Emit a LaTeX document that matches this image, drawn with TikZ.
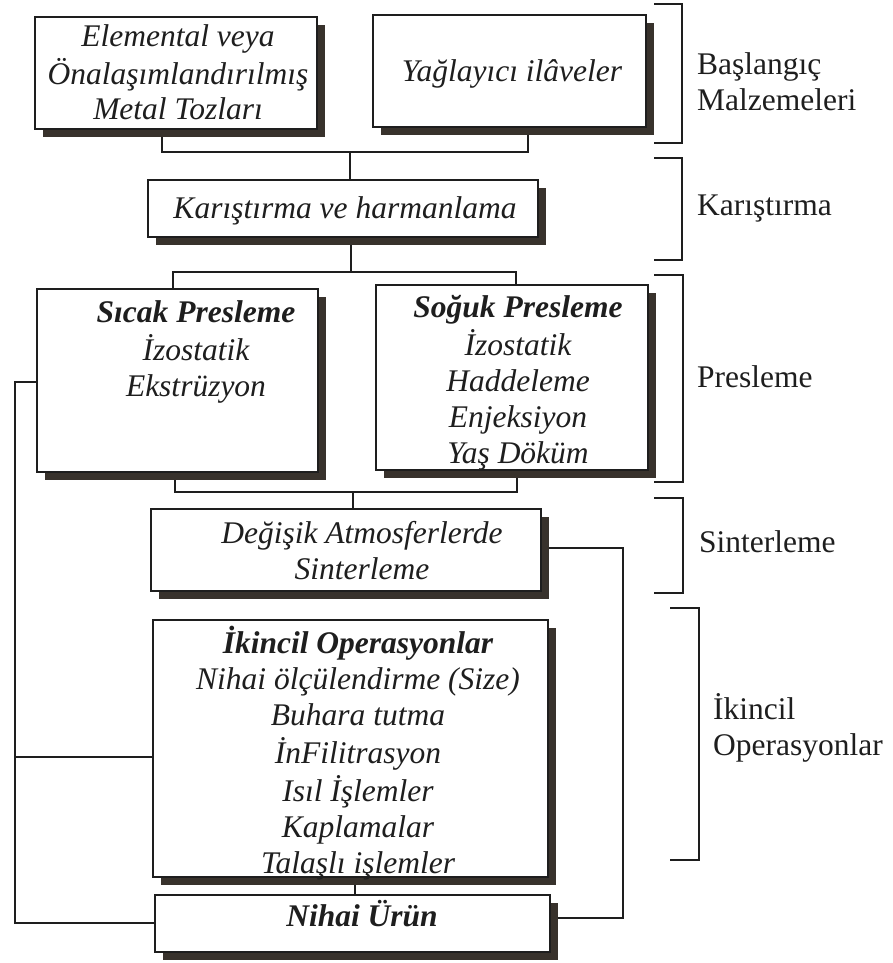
\documentclass[tikz,border=0pt]{standalone}
\usepackage{fontspec}
\setmainfont{Liberation Serif}
\usetikzlibrary{shadows,backgrounds}
\definecolor{shadowc}{HTML}{38322C}
\definecolor{ink}{HTML}{1E1E1E}
\begin{document}
\begin{tikzpicture}[x=1pt,y=-1pt,
  box/.style={draw=ink, line width=1.6pt, fill=white, anchor=north west, inner sep=0pt, outer sep=0pt,
    general shadow={fill=shadowc, shadow xshift=8pt, shadow yshift=-8pt}},
  txt/.style={font=\fontsize{31.5}{36}\selectfont\itshape, align=center, text=ink, inner sep=0pt},
  lbl/.style={font=\fontsize{31.5}{36}\selectfont, align=left, anchor=west, text=ink, inner sep=0pt},
  conn/.style={draw=ink, line width=1.6pt},
  brk/.style={draw=ink, line width=2pt}]
\useasboundingbox (0,0) rectangle (892,963);

% boxes
\node[box, minimum width=282pt, minimum height=112pt] (e1) at (35,17) {};
\node[box, minimum width=273pt, minimum height=112pt] (y1) at (373,15) {};
\node[box, minimum width=390pt, minimum height=57pt] (k) at (148,180) {};
\node[box, minimum width=281pt, minimum height=183pt] (hot) at (37,289) {};
\node[box, minimum width=272pt, minimum height=185pt] (cold) at (376,285) {};
\node[box, minimum width=390pt, minimum height=82pt] (sint) at (151,509) {};
\node[box, minimum width=395pt, minimum height=257pt] (ik) at (153,620) {};
\node[box, minimum width=395pt, minimum height=57pt] (nih) at (155,895) {};

% texts
\node[txt, font=\fontsize{31.5}{35}\selectfont\itshape] (te1) at (178,76)
  {\strut Elemental veya\\\strut Önalaşımlandırılmış\\\strut Metal Tozları};
\node[txt] (ty1) at (512,74) {\strut Yağlayıcı ilâveler};
\node[txt] (tk) at (345,211) {\strut Karıştırma ve harmanlama};
\node[txt] (thot) at (196,352) {\strut\textbf{Sıcak Presleme}\\\strut İzostatik\\\strut Ekstrüzyon};
\node[txt] (tcold) at (518,383.5) {\strut\textbf{Soğuk Presleme}\\\strut İzostatik\\\strut Haddeleme\\\strut Enjeksiyon\\\strut Yaş Döküm};
\node[txt] (tsint) at (362,554) {\strut Değişik Atmosferlerde\\\strut Sinterleme};
\node[txt] (tik) at (358,755) {\strut\textbf{İkincil Operasyonlar}\\\strut Nihai ölçülendirme (Size)\\\strut Buhara tutma\\\strut İnFilitrasyon\\\strut Isıl İşlemler\\\strut Kaplamalar\\\strut Talaşlı işlemler};
\node[txt] (tnih) at (362,919) {\strut\textbf{Nihai Ürün}};

% connectors
\coordinate (j1) at (350,152);
\coordinate (j2) at (351,272);
\coordinate (j3) at (353,492);
\coordinate (r1) at (623,548);
\coordinate (r2) at (623,918);
\coordinate (l1) at (15,382);
\coordinate (l2) at (15,923);
\coordinate (l3) at (15,757);
\begin{scope}[on background layer]
\draw[conn] ([xshift=-14pt]e1.south) |- (j1) -| ([xshift=18.5pt]y1.south);
\draw[conn] (j1) -- (j1 |- k.north);
\draw[conn] (j2 |- k.south) -- (j2);
\draw[conn] ([xshift=-4.5pt]hot.north) |- (j2) -| ([xshift=4pt]cold.north);
\draw[conn] ([xshift=-2.5pt]hot.south) |- (j3) -| ([xshift=5pt]cold.south);
\draw[conn] (j3) -- (j3 |- sint.north);
\draw[conn] (sint.east |- r1) -- (r1) -- (r2) -- (nih.east |- r2);
\draw[conn] (hot.west |- l1) -- (l1) -- (l2) -- (nih.west |- l2);
\draw[conn] (l3) -- (ik.west |- l3);
\draw[conn] ([xshift=4.5pt]ik.south) -- ([xshift=4.5pt]ik.south |- nih.north);
\end{scope}

% brackets
\draw[brk] (654,4) -- (682,4) -- (682,143) -- (654,143);
\draw[brk] (654,158) -- (682,158) -- (682,260) -- (654,260);
\draw[brk] (654,275) -- (683,275) -- (683,482) -- (654,482);
\draw[brk] (654,498) -- (683,498) -- (683,593) -- (654,593);
\draw[brk] (670,608) -- (699,608) -- (699,860) -- (670,860);

% stage labels
\node[lbl] (b1) at (697,85) {\strut Başlangıç\\\strut Malzemeleri};
\node[lbl] (b2) at (697,208) {\strut Karıştırma};
\node[lbl] (b3) at (697,380) {\strut Presleme};
\node[lbl] (b4) at (699,545) {\strut Sinterleme};
\node[lbl] (b5) at (713,730) {\strut İkincil\\\strut Operasyonlar};
\end{tikzpicture}
\end{document}
